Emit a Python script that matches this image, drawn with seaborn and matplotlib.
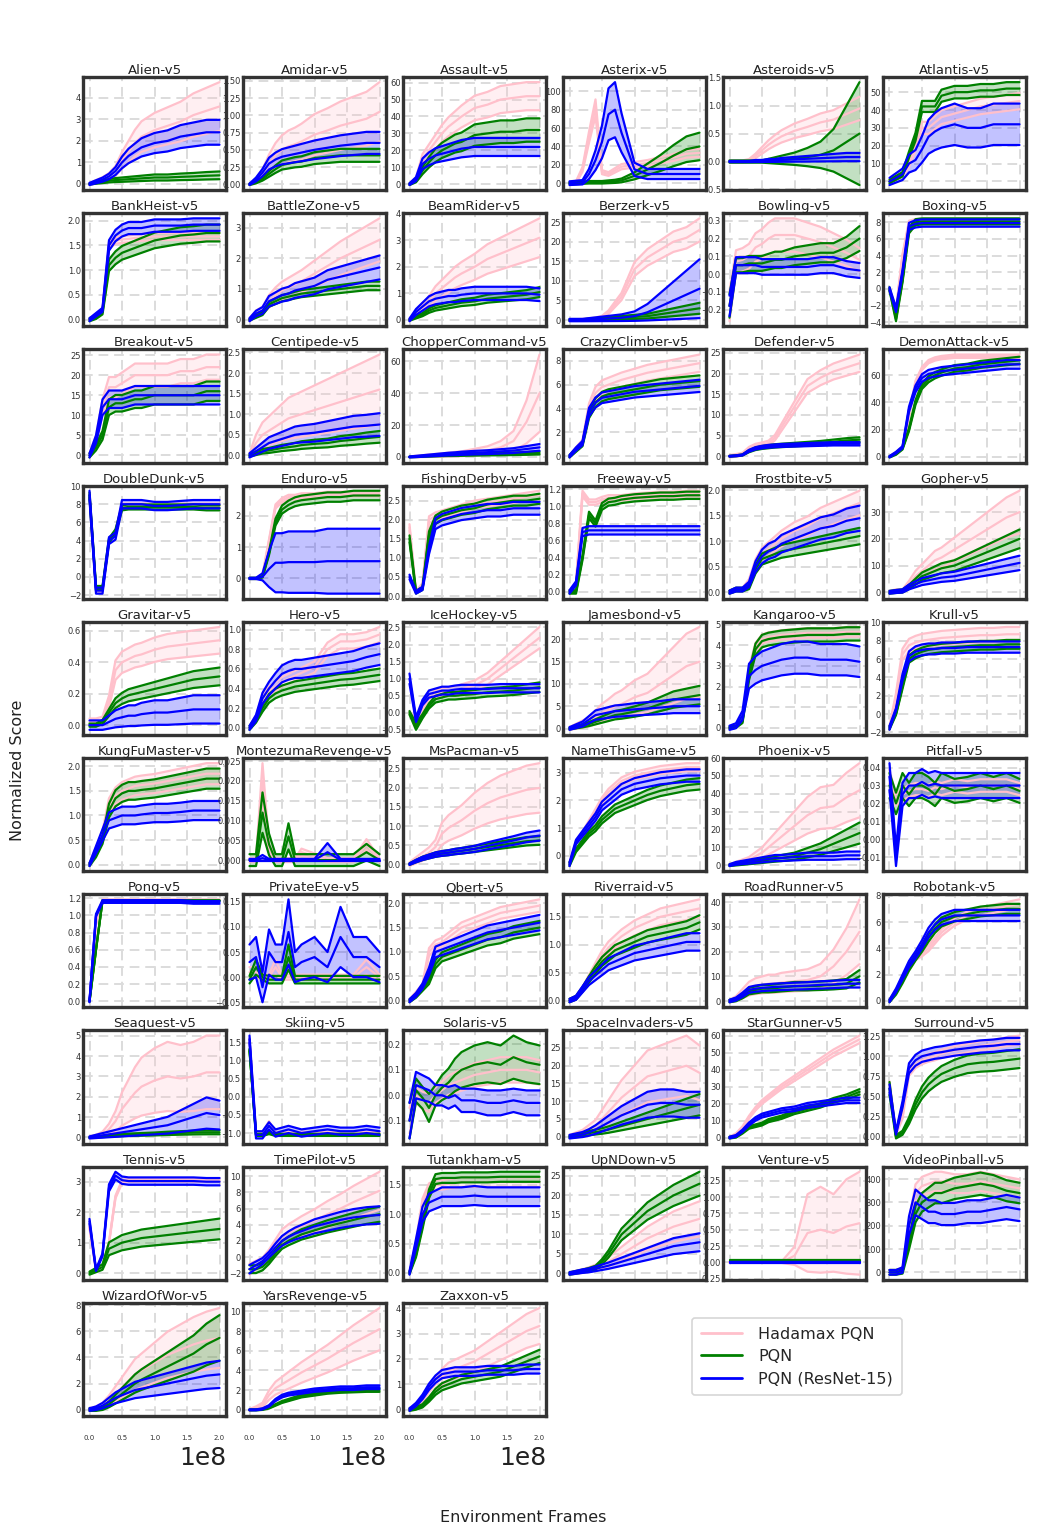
import numpy as np
import pandas as pd
import matplotlib
matplotlib.use("Agg")
import matplotlib.pyplot as plt
import seaborn as sns
from matplotlib.lines import Line2D
from matplotlib.ticker import MaxNLocator

# ---------------- data ----------------
GAMES = ["Alien", "Amidar", "Assault", "Asterix", "Asteroids", "Atlantis",
         "BankHeist", "BattleZone", "BeamRider", "Berzerk", "Bowling", "Boxing",
         "Breakout", "Centipede", "ChopperCommand", "CrazyClimber", "Defender", "DemonAttack",
         "DoubleDunk", "Enduro", "FishingDerby", "Freeway", "Frostbite", "Gopher",
         "Gravitar", "Hero", "IceHockey", "Jamesbond", "Kangaroo", "Krull",
         "KungFuMaster", "MontezumaRevenge", "MsPacman", "NameThisGame", "Phoenix", "Pitfall",
         "Pong", "PrivateEye", "Qbert", "Riverraid", "RoadRunner", "Robotank",
         "Seaquest", "Skiing", "Solaris", "SpaceInvaders", "StarGunner", "Surround",
         "Tennis", "TimePilot", "Tutankham", "UpNDown", "Venture", "VideoPinball",
         "WizardOfWor", "YarsRevenge", "Zaxxon"]

# environment frames, in units of 1e8
FRAMES_1E8 = [0, 0.1, 0.2, 0.3, 0.4, 0.5, 0.6, 0.7, 0.8, 1.0, 1.2, 1.4, 1.6, 1.8, 2.0]

HADAMAX = [
    [0, 0.1, 0.2, 0.35, 0.6, 1.1, 1.5, 1.9, 2.2, 2.5, 2.7, 2.9, 3.2, 3.4, 3.6],            # Alien
    [0, .05, .15, .3, .42, .5, .55, .58, .62, .72, .78, .85, .9, .95, 1.05],               # Amidar
    [0, 3, 15, 20, 25, 30, 34, 37, 40, 45, 47, 50, 51, 52, 52],                            # Assault
    [0, 1, 15, 50, 82, 12, 10, 14, 18, 20, 22, 25, 28, 32, 33],                            # Asterix
    [0, 0, 0, 0.02, 0.1, 0.2, 0.3, 0.38, 0.45, 0.55, 0.62, 0.7, 0.75, 0.85, 0.95],         # Asteroids
    [0, 2, 4, 10, 20, 30, 30, 33, 36, 38, 40, 42, 43, 44, 45],                             # Atlantis
    [0, 0.1, 0.2, 1.5, 1.6, 1.62, 1.63, 1.65, 1.66, 1.68, 1.68, 1.68, 1.68, 1.68, 1.68],   # BankHeist
    [0, 0.2, 0.3, 0.6, 0.8, 0.95, 1.05, 1.15, 1.25, 1.5, 1.75, 2.0, 2.2, 2.4, 2.6],        # BattleZone
    [0, 0.2, 0.4, 0.7, 1.0, 1.2, 1.4, 1.6, 1.75, 2.0, 2.3, 2.5, 2.7, 2.9, 3.1],            # BeamRider
    [0, 0, 0.1, 0.2, 0.4, 0.8, 2, 4, 6, 13, 16, 18, 20, 21, 23],                           # Berzerk
    [-0.18, 0.07, 0.08, 0.1, 0.15, 0.17, 0.2, 0.22, 0.22, 0.22, 0.2, 0.18, 0.15, 0.12, 0.08],  # Bowling
    [0, -2.5, 4, 8, 8.2, 8.2, 8.2, 8.2, 8.2, 8.2, 8.2, 8.2, 8.2, 8.2, 8.2],                 # Boxing
    [0, 4, 12, 17, 17, 18, 19, 20, 20, 20, 20, 21, 21, 22, 22],                            # Breakout
    [0, 0.3, 0.5, 0.6, 0.7, 0.8, 0.9, 0.95, 1.0, 1.1, 1.2, 1.3, 1.4, 1.5, 1.6],            # Centipede
    [0, 0.3, 0.5, 0.8, 1, 1.2, 1.5, 1.8, 2, 3, 4, 6, 10, 22, 40],                          # ChopperCommand
    [0, 0.6, 1.2, 4.0, 5.3, 5.8, 6.0, 6.2, 6.4, 6.7, 7.0, 7.2, 7.4, 7.6, 7.8],             # CrazyClimber
    [0, 0.2, 0.5, 1.8, 2.5, 2.8, 3.2, 4.5, 7, 12, 17, 19, 20.5, 21.5, 22.5],               # Defender
    [0, 3, 7, 30, 55, 65, 70, 72, 73, 74, 74, 74, 74, 74, 74],                             # DemonAttack
    [9, -1.5, -1.5, 4, 5, 7.9, 7.9, 7.9, 7.9, 7.9, 7.9, 7.9, 7.9, 7.9, 7.9],               # DoubleDunk
    [0, 0, 0.1, 1.2, 2.3, 2.5, 2.6, 2.6, 2.65, 2.65, 2.7, 2.7, 2.7, 2.7, 2.7],             # Enduro
    [1.8, 0.1, 0.3, 2.0, 2.1, 2.15, 2.2, 2.25, 2.3, 2.4, 2.45, 2.5, 2.55, 2.6, 2.65],      # FishingDerby
    [0, 0.1, 1.15, 1.05, 1.05, 1.08, 1.1, 1.1, 1.1, 1.12, 1.13, 1.14, 1.14, 1.15, 1.15],   # Freeway
    [0, 0.05, 0.05, 0.2, 0.55, 0.75, 0.85, 0.95, 1.05, 1.2, 1.3, 1.45, 1.55, 1.65, 1.75],  # Frostbite
    [0, 0.5, 0.5, 3, 6, 8, 10, 12, 13, 16, 19, 22, 25, 28, 30],                            # Gopher
    [0.02, 0.02, 0.03, 0.15, 0.35, 0.4, 0.42, 0.44, 0.45, 0.48, 0.5, 0.51, 0.52, 0.53, 0.54],  # Gravitar
    [0, 0.1, 0.3, 0.38, 0.42, 0.47, 0.5, 0.53, 0.56, 0.62, 0.8, 0.88, 0.88, 0.9, 0.95],    # Hero
    [0, -0.3, 0.1, 0.4, 0.55, 0.6, 0.62, 0.65, 0.7, 0.8, 1.0, 1.3, 1.6, 1.9, 2.2],         # IceHockey
    [0, 0.5, 1, 1.5, 2.5, 3.5, 4.2, 5, 5.5, 7, 8, 10, 12, 14, 15],                         # Jamesbond
    [0, 0.1, 0.5, 2.8, 3.9, 4.3, 4.4, 4.45, 4.5, 4.55, 4.6, 4.6, 4.6, 4.65, 4.65],         # Kangaroo
    [-1.5, 2, 6.5, 7.5, 7.8, 8.0, 8.1, 8.2, 8.3, 8.4, 8.5, 8.6, 8.6, 8.7, 8.7],            # Krull
    [0, 0.3, 0.6, 1.2, 1.4, 1.5, 1.55, 1.6, 1.62, 1.65, 1.7, 1.75, 1.8, 1.85, 1.85],       # KungFuMaster
    [0, 0, 0.02, 0.003, 0, 0, 0, 0, 0.002, 0.001, 0, 0, 0, 0.004, 0],                      # MontezumaRevenge
    [0, 0.1, 0.2, 0.3, 0.45, 0.8, 0.95, 1.05, 1.15, 1.4, 1.6, 1.75, 1.85, 1.95, 2.0],      # MsPacman
    [-0.3, 0.5, 0.8, 1.2, 1.6, 2.0, 2.3, 2.5, 2.7, 2.9, 3.0, 3.1, 3.15, 3.2, 3.2],         # NameThisGame
    [0, 1, 2, 3, 5, 7, 10, 13, 16, 22, 28, 32, 33, 38, 42],                                # Phoenix
    [0.035, 0.022, 0.025, 0.027, 0.028, 0.028, 0.027, 0.029, 0.028, 0.03, 0.029, 0.03, 0.03, 0.03, 0.028],  # Pitfall
    [0, 0.9, 1.18, 1.18, 1.18, 1.18, 1.18, 1.18, 1.18, 1.18, 1.18, 1.18, 1.18, 1.18, 1.18],  # Pong
    [0.01, 0.01, 0.0, 0.0, 0.02, 0.0, 0.0, 0.0, 0.0, 0.0, 0.0, 0.0, 0.0, 0.02, 0.0],       # PrivateEye
    [0, 0.15, 0.3, 1.0, 1.15, 1.2, 1.3, 1.4, 1.5, 1.6, 1.7, 1.8, 1.85, 1.9, 1.95],         # Qbert
    [0, 0.05, 0.2, 0.4, 0.6, 0.8, 0.95, 1.05, 1.15, 1.3, 1.4, 1.5, 1.55, 1.6, 1.65],       # Riverraid
    [0, 1, 3, 5, 6, 6.5, 7, 7, 7.5, 8, 8.5, 10, 14, 20, 28],                               # RoadRunner
    [0, 0.8, 1.6, 2.5, 3.3, 3.6, 4.0, 4.6, 5.2, 6.0, 6.5, 6.8, 7.0, 7.2, 7.4],             # Robotank
    [0, 0.05, 0.15, 0.4, 0.8, 1.4, 1.8, 2.2, 2.5, 2.8, 3.0, 2.9, 3.0, 3.2, 3.2],           # Seaquest
    [1.6, -1.0, -1.0, -0.7, -1.0, -1.0, -1.0, -1.0, -1.0, -1.0, -1.0, -1.0, -1.0, -1.0, -1.0],  # Skiing
    [-0.1, 0.0, -0.02, -0.03, 0.0, 0.02, 0.04, 0.05, 0.06, 0.08, 0.09, 0.1, 0.1, 0.1, 0.09],  # Solaris
    [0, 0.5, 1, 2, 3, 5, 7, 9, 11, 14, 17, 18, 19, 20, 18],                                # SpaceInvaders
    [0, 2, 6, 12, 17, 21, 24, 27, 30, 35, 40, 45, 50, 54, 58],                             # StarGunner
    [0.65, 0.05, 0.25, 0.8, 0.9, 0.95, 0.98, 1.0, 1.03, 1.07, 1.1, 1.13, 1.15, 1.18, 1.2],  # Surround
    [1.5, 0.1, 0.2, 1.0, 2.5, 3.0, 3.05, 3.05, 3.05, 3.05, 3.05, 3.05, 3.05, 3.05, 3.05],  # Tennis
    [-1.5, -1, -0.5, 0.5, 1.5, 2.5, 3.0, 3.4, 3.8, 4.5, 5.3, 6.0, 6.8, 7.5, 8.2],          # TimePilot
    [0, 0.5, 1.2, 1.45, 1.5, 1.5, 1.52, 1.53, 1.55, 1.55, 1.55, 1.55, 1.55, 1.55, 1.55],   # Tutankham
    [0, 0.3, 0.6, 1, 1.5, 2.2, 3, 4, 5, 7, 9, 10.5, 12, 13, 14],                           # UpNDown
    [0, 0, 0, 0, 0, 0, 0, 0, 0, 0.1, 0.45, 0.5, 0.45, 0.55, 0.6],                          # Venture
    [0, 0, 10, 200, 340, 370, 380, 390, 390, 380, 380, 390, 380, 370, 360],                # VideoPinball
    [0, 0.1, 0.3, 0.7, 1.2, 1.7, 2.2, 2.7, 3.0, 3.6, 4.2, 4.6, 5.0, 5.3, 5.5],             # WizardOfWor
    [0, 0.2, 0.5, 1.5, 2.2, 2.6, 3.0, 3.4, 3.8, 4.5, 5.2, 6.0, 6.8, 7.5, 8.2],             # YarsRevenge
    [0, 0.1, 0.3, 0.7, 1.0, 1.3, 1.5, 1.6, 1.7, 1.9, 2.2, 2.5, 2.8, 3.1, 3.3],             # Zaxxon
]

PQN = [
    [0, 0.05, 0.1, 0.15, 0.18, 0.2, 0.22, 0.24, 0.26, 0.3, 0.3, 0.33, 0.35, 0.38, 0.4],    # Alien
    [0, .03, .08, .15, .22, .28, .3, .32, .33, .38, .4, .42, .42, .42, .42],               # Amidar
    [0, 2, 8, 13, 17, 20, 22, 24, 25, 29, 30, 31, 31, 32, 32],                             # Assault
    [0, 0, 0.5, 1, 1, 1, 1.5, 2, 3, 8, 15, 22, 30, 37, 40],                                # Asterix
    [0, 0, 0, 0, 0, 0, 0.01, 0.02, 0.03, 0.05, 0.08, 0.12, 0.2, 0.35, 0.5],                # Asteroids
    [0, 2, 4, 15, 25, 42, 42, 42, 48, 50, 50, 51, 51, 52, 52],                             # Atlantis
    [0, 0.05, 0.15, 1.1, 1.25, 1.35, 1.4, 1.45, 1.5, 1.6, 1.65, 1.7, 1.72, 1.75, 1.75],    # BankHeist
    [0, 0.1, 0.2, 0.5, 0.6, 0.7, 0.75, 0.8, 0.85, 0.9, 0.95, 1.0, 1.05, 1.1, 1.1],         # BattleZone
    [0, 0.1, 0.2, 0.35, 0.45, 0.5, 0.55, 0.6, 0.65, 0.7, 0.8, 0.85, 0.9, 0.95, 1.05],      # BeamRider
    [0, 0, 0, 0.1, 0.2, 0.3, 0.4, 0.5, 0.6, 0.8, 1.0, 1.5, 2.0, 2.5, 3.0],                 # Berzerk
    [-0.18, 0.05, 0.05, 0.06, 0.06, 0.06, 0.07, 0.08, 0.08, 0.1, 0.11, 0.12, 0.12, 0.15, 0.2],  # Bowling
    [0, -3.6, 1, 7, 8, 8.1, 8.1, 8.1, 8.1, 8.1, 8.1, 8.1, 8.1, 8.1, 8.1],                  # Boxing
    [0, 2, 5, 12, 13, 13, 13.5, 14, 14, 15, 15, 15, 15, 16, 16],                           # Breakout
    [0, 0.05, 0.1, 0.12, 0.15, 0.18, 0.2, 0.22, 0.25, 0.28, 0.3, 0.35, 0.38, 0.42, 0.45],  # Centipede
    [0, 0.2, 0.4, 0.6, 0.8, 1, 1.1, 1.2, 1.3, 1.5, 1.7, 1.8, 2, 2.2, 2.5],                 # ChopperCommand
    [0, 0.5, 1.0, 3.5, 4.5, 5.0, 5.2, 5.3, 5.4, 5.6, 5.8, 6.0, 6.1, 6.2, 6.3],             # CrazyClimber
    [0, 0.1, 0.3, 1.2, 1.8, 2.1, 2.3, 2.5, 2.6, 2.8, 3.0, 3.2, 3.5, 3.8, 4.0],             # Defender
    [0, 2, 6, 20, 40, 52, 57, 60, 62, 65, 66, 68, 69, 70, 71],                             # DemonAttack
    [9, -1.2, -1.2, 4, 5, 7.6, 7.7, 7.7, 7.7, 7.7, 7.7, 7.7, 7.7, 7.6, 7.6],               # DoubleDunk
    [0, 0, 0.05, 0.8, 1.8, 2.2, 2.35, 2.45, 2.5, 2.55, 2.6, 2.6, 2.65, 2.65, 2.65],        # Enduro
    [1.5, 0.1, 0.2, 1.6, 2.0, 2.1, 2.15, 2.2, 2.25, 2.3, 2.4, 2.45, 2.5, 2.5, 2.55],       # FishingDerby
    [0, 0, 0.4, 0.9, 0.8, 1.0, 1.05, 1.06, 1.08, 1.1, 1.11, 1.12, 1.12, 1.13, 1.13],       # Freeway
    [0, 0.05, 0.05, 0.1, 0.45, 0.65, 0.7, 0.75, 0.8, 0.85, 0.9, 0.95, 1.0, 1.05, 1.1],     # Frostbite
    [0, 0.3, 0.5, 2, 4, 6, 7, 8, 9, 10, 12, 14, 16, 18, 20],                               # Gopher
    [0, 0, 0.02, 0.08, 0.14, 0.17, 0.19, 0.2, 0.21, 0.23, 0.25, 0.27, 0.29, 0.3, 0.31],    # Gravitar
    [0, 0.08, 0.2, 0.3, 0.35, 0.38, 0.4, 0.42, 0.43, 0.45, 0.47, 0.49, 0.5, 0.52, 0.54],   # Hero
    [0, -0.4, -0.1, 0.2, 0.4, 0.45, 0.5, 0.5, 0.52, 0.55, 0.6, 0.62, 0.65, 0.7, 0.75],     # IceHockey
    [0, 0.3, 0.6, 1, 1.5, 2, 2.5, 3, 3.2, 3.8, 4.5, 5.5, 6.5, 7, 7.5],                     # Jamesbond
    [0, 0.05, 0.3, 2.5, 3.8, 4.2, 4.3, 4.35, 4.4, 4.45, 4.5, 4.5, 4.5, 4.55, 4.55],        # Kangaroo
    [-1.5, 0, 3, 6, 6.5, 6.8, 7.0, 7.1, 7.2, 7.3, 7.4, 7.5, 7.5, 7.6, 7.6],                # Krull
    [0, 0.2, 0.5, 1.1, 1.35, 1.45, 1.5, 1.5, 1.52, 1.55, 1.6, 1.65, 1.7, 1.75, 1.75],      # KungFuMaster
    [0, 0, 0.012, 0.004, 0, 0, 0.006, 0, 0, 0, 0, 0, 0, 0.002, 0],                         # MontezumaRevenge
    [0, 0.08, 0.15, 0.2, 0.25, 0.28, 0.3, 0.33, 0.35, 0.4, 0.45, 0.5, 0.55, 0.6, 0.62],    # MsPacman
    [-0.3, 0.2, 0.5, 0.8, 1.0, 1.3, 1.5, 1.7, 1.8, 2.0, 2.2, 2.35, 2.45, 2.55, 2.6],       # NameThisGame
    [0, 0.5, 1, 1.5, 2, 2.5, 3, 3.5, 4, 5, 7, 9, 12, 15, 18],                              # Phoenix
    [0.03, 0.02, 0.03, 0.025, 0.03, 0.03, 0.028, 0.025, 0.03, 0.027, 0.028, 0.03, 0.028, 0.03, 0.027],  # Pitfall
    [0, 0.6, 1.17, 1.17, 1.17, 1.17, 1.17, 1.17, 1.17, 1.17, 1.17, 1.17, 1.17, 1.17, 1.17],  # Pong
    [-0.005, 0.02, 0.0, -0.005, -0.005, -0.005, 0.04, -0.005, -0.005, -0.005, -0.005, -0.005, -0.005, -0.005, -0.005],  # PrivateEye
    [0, 0.1, 0.25, 0.4, 0.75, 0.9, 0.95, 1.0, 1.05, 1.15, 1.25, 1.3, 1.4, 1.45, 1.5],      # Qbert
    [0, 0.05, 0.2, 0.38, 0.55, 0.7, 0.8, 0.9, 0.95, 1.05, 1.15, 1.2, 1.25, 1.3, 1.4],      # Riverraid
    [0, 0.5, 2, 4, 4.5, 5, 5, 5.2, 5.5, 6, 6, 6.2, 6.5, 7, 10],                            # RoadRunner
    [0, 0.6, 1.5, 2.5, 3.3, 4.0, 4.8, 5.5, 6.0, 6.4, 6.6, 6.8, 6.9, 7.0, 7.0],             # Robotank
    [0, 0.02, 0.05, 0.08, 0.1, 0.12, 0.13, 0.14, 0.15, 0.17, 0.2, 0.22, 0.24, 0.25, 0.25],  # Seaquest
    [1.3, -1.05, -1.05, -1.0, -1.05, -1.05, -1.05, -1.05, -1.05, -1.05, -1.05, -1.05, -1.05, -1.05, -1.05],  # Skiing
    [-0.1, 0.02, -0.01, -0.05, 0.0, 0.03, 0.05, 0.08, 0.1, 0.12, 0.13, 0.12, 0.15, 0.13, 0.12],  # Solaris
    [0, 0.3, 0.6, 1, 1.3, 1.6, 2, 2.5, 3, 4, 5, 6, 7, 8, 9],                               # SpaceInvaders
    [0, 0.5, 3, 6, 7, 8, 10, 11, 12, 15, 17, 19, 22, 24, 27],                              # StarGunner
    [0.6, 0.0, 0.05, 0.2, 0.4, 0.55, 0.65, 0.72, 0.78, 0.85, 0.9, 0.92, 0.93, 0.95, 0.97],  # Surround
    [0, 0.1, 0.2, 0.8, 0.9, 1.0, 1.05, 1.1, 1.15, 1.2, 1.25, 1.3, 1.35, 1.4, 1.45],        # Tennis
    [-1.5, -1.5, -1.2, -0.5, 0.5, 1.5, 2.0, 2.4, 2.8, 3.3, 3.8, 4.2, 4.6, 5.0, 5.3],       # TimePilot
    [0, 0.3, 0.8, 1.35, 1.6, 1.62, 1.62, 1.62, 1.63, 1.63, 1.63, 1.64, 1.64, 1.64, 1.64],  # Tutankham
    [0, 0.3, 0.6, 1, 1.5, 3, 5, 7.5, 10, 13, 16, 18, 20, 21.5, 23],                        # UpNDown
    [0.02, 0.02, 0.02, 0.02, 0.02, 0.02, 0.02, 0.02, 0.02, 0.02, 0.02, 0.02, 0.02, 0.02, 0.02],  # Venture
    [0, 0, 5, 120, 250, 300, 320, 340, 340, 360, 370, 380, 370, 350, 340],                 # VideoPinball
    [0, 0, 0.1, 0.4, 0.8, 1.2, 1.6, 2.0, 2.3, 2.8, 3.3, 3.8, 4.3, 5.0, 5.5],               # WizardOfWor
    [0, 0, 0.05, 0.2, 0.5, 0.8, 1.0, 1.2, 1.4, 1.6, 1.8, 1.9, 1.95, 2.0, 2.0],             # YarsRevenge
    [0, 0.05, 0.15, 0.4, 0.7, 0.9, 1.0, 1.1, 1.2, 1.3, 1.4, 1.5, 1.7, 1.9, 2.1],           # Zaxxon
]

RESNET = [
    [0, 0.1, 0.2, 0.35, 0.6, 1.0, 1.3, 1.5, 1.7, 1.9, 2.0, 2.2, 2.3, 2.4, 2.4],            # Alien
    [0, .07, .17, .3, .36, .4, .42, .44, .46, .5, .53, .56, .58, .6, .6],                  # Amidar
    [0, 3, 12, 15, 17, 18, 19, 20, 21, 22, 22, 22, 22, 22, 22],                            # Assault
    [0, 0.5, 1, 10, 25, 45, 75, 80, 55, 15, 10, 10, 10, 10, 10],                           # Asterix
    [0, 0, 0, 0, 0.01, 0.01, 0.02, 0.02, 0.03, 0.04, 0.05, 0.06, 0.07, 0.08, 0.08],        # Asteroids
    [0, 2, 4, 10, 12, 18, 25, 28, 30, 32, 30, 30, 32, 32, 32],                             # Atlantis
    [0, 0.1, 0.2, 1.5, 1.7, 1.8, 1.85, 1.85, 1.85, 1.9, 1.9, 1.9, 1.92, 1.92, 1.92],       # BankHeist
    [0, 0.2, 0.3, 0.6, 0.7, 0.8, 0.85, 0.95, 1.0, 1.1, 1.3, 1.4, 1.5, 1.6, 1.7],           # BattleZone
    [0, 0.3, 0.5, 0.7, 0.8, 0.85, 0.9, 0.9, 0.95, 1.0, 1.0, 1.0, 1.0, 1.0, 0.95],          # BeamRider
    [0, 0, 0, 0.1, 0.2, 0.3, 0.4, 0.5, 0.6, 1.0, 2.0, 3.5, 5, 6.5, 8],                     # Berzerk
    [-0.18, 0.05, 0.05, 0.05, 0.05, 0.04, 0.04, 0.04, 0.04, 0.04, 0.04, 0.05, 0.05, 0.03, 0.02],  # Bowling
    [0, -2.5, 2, 7.5, 7.8, 7.9, 7.9, 7.9, 7.9, 7.9, 7.9, 7.9, 7.9, 7.9, 7.9],              # Boxing
    [0, 4, 12, 14, 14, 14, 14.5, 15, 15, 15, 15, 15, 15, 15, 15],                          # Breakout
    [0, 0.1, 0.2, 0.3, 0.35, 0.4, 0.45, 0.5, 0.52, 0.55, 0.6, 0.65, 0.7, 0.72, 0.75],      # Centipede
    [0, 0.3, 0.6, 0.9, 1.2, 1.5, 1.8, 2, 2.3, 2.7, 3, 3.5, 4, 5, 6],                       # ChopperCommand
    [0, 0.6, 1.1, 3.7, 4.5, 4.9, 5.0, 5.1, 5.2, 5.4, 5.5, 5.6, 5.7, 5.8, 5.9],             # CrazyClimber
    [0, 0.1, 0.3, 1.3, 1.9, 2.2, 2.4, 2.5, 2.6, 2.7, 2.8, 2.9, 3.0, 3.0, 3.0],             # Defender
    [0, 3, 7, 35, 50, 58, 61, 62, 63, 64, 65, 66, 67, 68, 68],                             # DemonAttack
    [9, -1.5, -1.5, 4, 4.5, 8, 8, 8, 8, 7.8, 7.8, 7.9, 8, 8, 8],                           # DoubleDunk
    [0, 0, 0.05, 0.3, 0.5, 0.5, 0.52, 0.52, 0.52, 0.52, 0.55, 0.55, 0.55, 0.55, 0.55],     # Enduro
    [0.5, 0.1, 0.2, 1.2, 1.9, 2.0, 2.05, 2.1, 2.15, 2.2, 2.25, 2.25, 2.3, 2.3, 2.3],       # FishingDerby
    [0, 0.1, 0.7, 0.72, 0.72, 0.72, 0.72, 0.72, 0.72, 0.72, 0.72, 0.72, 0.72, 0.72, 0.72],  # Freeway
    [0, 0.05, 0.05, 0.15, 0.5, 0.7, 0.8, 0.85, 0.95, 1.05, 1.15, 1.25, 1.3, 1.4, 1.45],    # Frostbite
    [0, 0.3, 0.5, 2, 3, 4, 4.5, 5, 5.5, 6, 7, 8, 9, 10, 11],                               # Gopher
    [0, 0, 0, 0.02, 0.04, 0.05, 0.06, 0.06, 0.07, 0.08, 0.08, 0.09, 0.1, 0.1, 0.1],        # Gravitar
    [0, 0.1, 0.3, 0.4, 0.48, 0.55, 0.58, 0.6, 0.6, 0.62, 0.64, 0.66, 0.68, 0.72, 0.75],    # Hero
    [1.0, -0.2, 0.3, 0.55, 0.6, 0.65, 0.65, 0.68, 0.7, 0.7, 0.7, 0.72, 0.72, 0.72, 0.72],  # IceHockey
    [0, 0.5, 1, 2, 3, 3.3, 3.6, 3.9, 4.0, 4.3, 4.5, 4.7, 5, 5, 5],                         # Jamesbond
    [0, 0.1, 0.6, 2.5, 2.8, 3.0, 3.1, 3.2, 3.3, 3.4, 3.4, 3.3, 3.3, 3.3, 3.2],             # Kangaroo
    [-1.5, 0.5, 4, 6.3, 6.8, 7.0, 7.1, 7.1, 7.2, 7.2, 7.3, 7.3, 7.3, 7.3, 7.3],            # Krull
    [0, 0.3, 0.6, 0.9, 0.95, 1.0, 1.0, 1.0, 1.02, 1.05, 1.05, 1.07, 1.1, 1.1, 1.1],        # KungFuMaster
    [0, 0, 0.0005, 0, 0, 0, 0, 0, 0, 0, 0.002, 0, 0, 0, 0],                                # MontezumaRevenge
    [0, 0.08, 0.15, 0.2, 0.25, 0.28, 0.3, 0.33, 0.35, 0.4, 0.48, 0.55, 0.62, 0.7, 0.75],   # MsPacman
    [-0.3, 0.5, 0.8, 1.1, 1.4, 1.8, 2.0, 2.2, 2.4, 2.6, 2.7, 2.8, 2.85, 2.9, 2.9],         # NameThisGame
    [0, 1, 1.5, 2, 2.5, 3, 3.5, 4, 4, 4.5, 5, 5, 5, 5.5, 5.5],                             # Phoenix
    [0.035, -0.01, 0.025, 0.03, 0.03, 0.032, 0.03, 0.031, 0.03, 0.03, 0.03, 0.03, 0.03, 0.03, 0.03],  # Pitfall
    [0, 1.0, 1.16, 1.16, 1.16, 1.16, 1.16, 1.16, 1.16, 1.16, 1.16, 1.16, 1.15, 1.15, 1.15],  # Pong
    [0.03, 0.04, -0.02, 0.05, 0.03, 0.03, 0.09, 0.02, 0.03, 0.04, 0.02, 0.08, 0.04, 0.04, 0.02],  # PrivateEye
    [0, 0.12, 0.3, 0.6, 1.0, 1.05, 1.1, 1.15, 1.2, 1.3, 1.4, 1.45, 1.5, 1.55, 1.6],        # Qbert
    [0, 0.05, 0.2, 0.35, 0.45, 0.55, 0.65, 0.7, 0.75, 0.85, 0.9, 0.95, 1.0, 1.05, 1.05],   # Riverraid
    [0, 0.8, 2.5, 4.5, 5, 5.3, 5.5, 5.7, 5.8, 6, 6.2, 6.5, 6.7, 7, 7],                     # RoadRunner
    [0, 0.8, 1.8, 2.8, 3.5, 4.3, 5.2, 5.8, 6.2, 6.5, 6.5, 6.5, 6.5, 6.5, 6.5],             # Robotank
    [0, 0.05, 0.1, 0.15, 0.2, 0.25, 0.3, 0.35, 0.4, 0.5, 0.6, 0.8, 1.0, 1.2, 1.1],         # Seaquest
    [1.6, -1.05, -1.05, -0.8, -1.0, -0.95, -0.9, -0.95, -1.0, -0.95, -0.9, -0.95, -0.95, -0.9, -0.95],  # Skiing
    [-0.1, 0.04, 0.03, 0.02, 0.0, 0.0, -0.01, 0.0, -0.02, -0.02, -0.03, -0.03, -0.02, -0.03, -0.03],  # Solaris
    [0, 0.3, 0.6, 1.2, 2, 3, 4, 5, 6, 7.5, 9, 9.5, 9.5, 9, 9],                             # SpaceInvaders
    [0, 1, 4, 8, 11, 13, 14, 15, 16, 17, 19, 20, 21, 22, 22],                              # StarGunner
    [0.6, 0.05, 0.4, 0.85, 0.95, 1.0, 1.02, 1.04, 1.05, 1.08, 1.1, 1.12, 1.13, 1.15, 1.15],  # Surround
    [1.7, 0.1, 0.6, 2.8, 3.2, 3.05, 3.02, 3.02, 3.02, 3.02, 3.02, 3.02, 3.02, 3.0, 3.0],   # Tennis
    [-1.5, -1, -0.5, 0.3, 1.2, 2.0, 2.5, 2.9, 3.2, 3.8, 4.2, 4.6, 4.9, 5.1, 5.2],          # TimePilot
    [0, 0.5, 1.0, 1.2, 1.25, 1.3, 1.3, 1.3, 1.3, 1.32, 1.3, 1.3, 1.3, 1.3, 1.3],           # Tutankham
    [0, 0.3, 0.6, 0.8, 1.2, 1.6, 2, 2.5, 3, 4, 5, 6, 7, 7.5, 8],                           # UpNDown
    [0, 0, 0, 0, 0, 0, 0, 0, 0, 0, 0, 0, 0, 0, 0],                                         # Venture
    [0, 0, 10, 200, 300, 280, 260, 260, 250, 250, 260, 260, 270, 280, 270],                # VideoPinball
    [0, 0.1, 0.3, 0.6, 0.9, 1.1, 1.3, 1.5, 1.6, 1.8, 2.0, 2.2, 2.4, 2.6, 2.7],             # WizardOfWor
    [0, 0, 0.1, 0.4, 1.0, 1.4, 1.6, 1.7, 1.8, 2.0, 2.1, 2.2, 2.2, 2.3, 2.3],               # YarsRevenge
    [0, 0.2, 0.5, 0.9, 1.2, 1.4, 1.45, 1.5, 1.5, 1.5, 1.55, 1.55, 1.55, 1.6, 1.6],         # Zaxxon
]

# seed spread: (absolute half-width, relative half-width)
HADAMAX_BAND = [(0.05, 0.3), (0.01, 0.4), (0.5, 0.15), (1, 0.1), (0.02, 0.2), (1, 0.08),
                (0.02, 0.03), (0.05, 0.25), (0.05, 0.22), (0.2, 0.12), (0.05, 0.2), (0.1, 0.01),
                (0.5, 0.12), (0.05, 0.5), (0.3, 0.6), (0.1, 0.08), (0.3, 0.08), (0.5, 0.01),
                (0.1, 0.01), (0.02, 0.02), (0.03, 0.03), (0.01, 0.02), (0.03, 0.12), (0.5, 0.25),
                (0.02, 0.12), (0.02, 0.06), (0.05, 0.12), (0.3, 0.5), (0.05, 0.04), (0.1, 0.08),
                (0.03, 0.1), (0.0005, 0.2), (0.05, 0.3), (0.05, 0.03), (0.5, 0.35), (0.002, 0.05),
                (0.005, 0.0), (0.005, 0.5), (0.03, 0.05), (0.03, 0.08), (0.5, 0.45), (0.1, 0.03),
                (0.05, 0.55), (0.03, 0.0), (0.03, 0.2), (0.5, 0.4), (0.5, 0.03), (0.02, 0.03),
                (0.02, 0.01), (0.3, 0.25), (0.02, 0.04), (0.3, 0.3), (0.01, 1.3), (10, 0.08),
                (0.1, 0.4), (0.1, 0.25), (0.05, 0.2)]
PQN_BAND = [(0.02, 0.4), (0.01, 0.2), (0.5, 0.2), (1, 0.35), (0.02, 1.8), (1, 0.05),
            (0.03, 0.08), (0.03, 0.1), (0.03, 0.15), (0.2, 0.4), (0.03, 0.2), (0.2, 0.02),
            (0.5, 0.12), (0.03, 0.25), (0.2, 0.3), (0.1, 0.06), (0.1, 0.12), (0.5, 0.03),
            (0.2, 0.01), (0.02, 0.05), (0.03, 0.04), (0.02, 0.02), (0.03, 0.12), (0.5, 0.15),
            (0.01, 0.15), (0.02, 0.08), (0.05, 0.12), (0.2, 0.25), (0.05, 0.06), (0.1, 0.05),
            (0.03, 0.1), (0.0015, 0.3), (0.02, 0.15), (0.05, 0.06), (0.5, 0.3), (0.004, 0.1),
            (0.005, 0.0), (0.005, 0.5), (0.03, 0.07), (0.03, 0.07), (0.5, 0.2), (0.1, 0.04),
            (0.02, 0.3), (0.03, 0.0), (0.04, 0.3), (0.3, 0.3), (0.5, 0.04), (0.02, 0.1),
            (0.05, 0.2), (0.3, 0.12), (0.02, 0.04), (0.3, 0.12), (0.01, 0.5), (10, 0.1),
            (0.1, 0.3), (0.05, 0.06), (0.05, 0.1)]
RESNET_BAND = [(0.05, 0.22), (0.01, 0.25), (0.5, 0.22), (2, 0.35), (0.01, 0.8), (2, 0.3),
               (0.03, 0.05), (0.05, 0.2), (0.05, 0.2), (0.3, 0.9), (0.04, 0.1), (0.2, 0.03),
               (0.5, 0.12), (0.05, 0.3), (0.3, 0.3), (0.1, 0.07), (0.1, 0.1), (0.5, 0.04),
               (0.3, 0.02), (0.02, 1.85), (0.03, 0.06), (0.02, 0.04), (0.03, 0.15), (0.5, 0.2),
               (0.03, 0.6), (0.02, 0.12), (0.05, 0.1), (0.3, 0.25), (0.1, 0.2), (0.1, 0.07),
               (0.03, 0.15), (0.0003, 1.0), (0.02, 0.15), (0.05, 0.06), (0.5, 0.3), (0.004, 0.1),
               (0.01, 0.005), (0.02, 0.5), (0.03, 0.08), (0.03, 0.12), (0.5, 0.15), (0.1, 0.05),
               (0.05, 0.6), (0.1, 0.0), (0.04, 0.3), (0.5, 0.35), (0.5, 0.05), (0.02, 0.05),
               (0.03, 0.03), (0.3, 0.15), (0.03, 0.1), (0.3, 0.25), (0.01, 0.0), (10, 0.15),
               (0.1, 0.35), (0.05, 0.06), (0.05, 0.08)]

METHODS = ["Hadamax PQN", "PQN", "PQN (ResNet-15)"]
COLORS = ["pink", "green", "blue"]

# ---------------- figure ----------------
sns.set_style("whitegrid", {"grid.linestyle": "--", "grid.color": "#dcdcdc",
                            "axes.edgecolor": "#333333"})
plt.rcParams['font.family'] = ['DejaVu Sans']

W, H = 1046, 1539
fig, axes = plt.subplots(10, 6, figsize=(W / 100, H / 100), dpi=100)
fig.subplots_adjust(left=83 / W, right=1026 / W, top=1 - 77 / H, bottom=1 - 1416 / H,
                    wspace=17 / 143, hspace=23 / 113)

frames = np.array(FRAMES_1E8) * 1e8
series = [HADAMAX, PQN, RESNET]
bands = [HADAMAX_BAND, PQN_BAND, RESNET_BAND]

for i, ax in enumerate(axes.flat):
    if i >= len(GAMES):
        ax.remove()
        continue
    for m in range(3):
        y = np.array(series[m][i], dtype=float)
        a, r = bands[m][i]
        half = a + r * np.abs(y)
        lo, hi = y - half, y + half
        df = pd.DataFrame({
            "frames": np.concatenate([frames, frames, frames]),
            "score": np.concatenate([lo, y, hi]),
            "curve": np.repeat(["lo", "mid", "hi"], len(frames)),
        })
        ax.fill_between(frames, lo, hi, color=COLORS[m], alpha=0.24, lw=0)
        sns.lineplot(data=df, x="frames", y="score", units="curve", estimator=None,
                     color=COLORS[m], lw=1.6, ax=ax, legend=False)
    ax.set_title(f"{GAMES[i]}-v5", fontsize=9.5, pad=2, color="#222222")
    ax.set_xlabel("")
    ax.set_ylabel("")
    ax.set_xticks([0, 0.5e8, 1.0e8, 1.5e8, 2.0e8])
    ax.yaxis.set_major_locator(MaxNLocator(nbins=7, steps=[1, 2, 2.5, 5, 10]))
    ax.grid(True, linestyle=(0, (5, 3)), color="#dcdcdc", lw=1.4)
    for s in ax.spines.values():
        s.set_visible(True)
        s.set_color("#333333")
        s.set_linewidth(2.4)
    ax.tick_params(axis="y", labelsize=6, length=0, pad=1.5, labelcolor="#333333")
    ax.tick_params(axis="x", labelsize=5, length=0, pad=14, labelcolor="#333333")
    if i < 54:
        ax.tick_params(axis="x", labelbottom=False)
        ax.xaxis.offsetText.set_visible(False)
    else:
        ax.xaxis.offsetText.set_fontsize(18)
        ax.xaxis.offsetText.set_color("#222222")

fig.text(18 / W, 1 - 770 / H, "Normalized Score", rotation=90, ha="center", va="center",
         fontsize=11.5, color="#222222")
fig.text(523 / W, 1 - 1517 / H, "Environment Frames", ha="center", va="center",
         fontsize=11.5, color="#222222")

handles = [Line2D([0], [0], color=c, lw=2) for c in COLORS]
leg = fig.legend(handles, METHODS, loc="upper left", bbox_to_anchor=(692 / W, 1 - 1318 / H),
                 borderaxespad=0, fontsize=11.5, frameon=True, handlelength=2.6,
                 borderpad=0.55, labelspacing=0.45, handletextpad=1.0)
leg.get_frame().set_edgecolor("#cccccc")
leg.get_frame().set_linewidth(1.2)

fig.savefig("out.png", dpi=100)
